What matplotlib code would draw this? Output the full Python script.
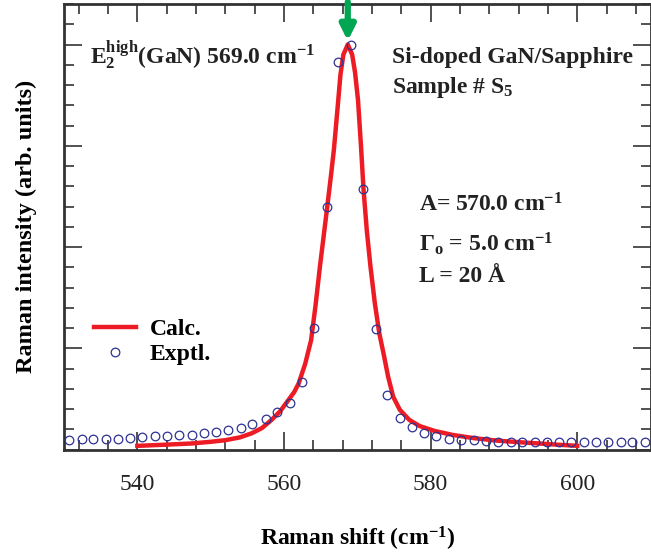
import matplotlib
matplotlib.use("Agg")
import matplotlib.pyplot as plt
from matplotlib.ticker import MultipleLocator, NullFormatter

plt.rcParams['font.family'] = ['Liberation Serif', 'DejaVu Serif']
plt.rcParams['mathtext.fontset'] = 'custom'
plt.rcParams['mathtext.rm'] = 'Liberation Serif:bold'
plt.rcParams['mathtext.it'] = 'Liberation Serif:bold'
plt.rcParams['mathtext.bf'] = 'Liberation Serif:bold'
plt.rcParams['mathtext.default'] = 'rm'

# experimental points (normalised intensity)
expt_x = [530.7, 532.4, 534.0, 535.7, 537.3, 539.0, 540.7, 542.4, 544.0, 545.7,
          547.4, 549.1, 550.7, 552.4, 554.1, 555.7, 557.5, 559.1, 560.8, 562.5,
          564.1, 565.8, 567.4, 569.1, 570.8, 572.5, 574.1, 575.8, 577.4, 579.1,
          580.8, 582.5, 584.2, 585.9, 587.5, 589.2, 590.9, 592.5, 594.2, 595.9,
          597.5, 599.2, 600.9, 602.5, 604.2, 605.9, 607.5, 609.2]
expt_y = [0.023, 0.025, 0.025, 0.025, 0.027, 0.029, 0.031, 0.033, 0.034, 0.036,
          0.037, 0.040, 0.042, 0.047, 0.054, 0.064, 0.076, 0.092, 0.115, 0.166,
          0.299, 0.599, 0.958, 1.000, 0.642, 0.298, 0.134, 0.078, 0.055, 0.041,
          0.033, 0.027, 0.023, 0.023, 0.021, 0.019, 0.019, 0.018, 0.018, 0.018,
          0.018, 0.018, 0.018, 0.018, 0.018, 0.018, 0.018, 0.018]

# calculated curve
calc_x = [540.0, 544.0, 547.5, 550.0, 552.0, 554.0, 555.6, 557.0, 558.3, 559.5,
          560.6, 561.4, 562.0, 562.9, 563.7, 564.3, 564.9, 565.4, 565.9, 566.4,
          566.8, 567.1, 567.4, 567.7, 568.1, 568.7, 569.3, 569.7, 570.1, 570.5,
          570.85, 571.3, 571.8, 572.4, 573.0, 573.6, 574.2, 574.9, 575.8, 577.1,
          578.5, 580.5, 583.0, 585.9, 589.0, 592.1, 597.2, 600.0]
calc_y = [0.009, 0.012, 0.015, 0.019, 0.023, 0.030, 0.040, 0.053, 0.073, 0.095,
          0.122, 0.142, 0.163, 0.212, 0.270, 0.355, 0.451, 0.525, 0.599, 0.675,
          0.739, 0.800, 0.862, 0.925, 0.975, 1.000, 0.975, 0.930, 0.862, 0.750,
          0.642, 0.540, 0.451, 0.360, 0.287, 0.235, 0.180, 0.130, 0.098, 0.073,
          0.058, 0.046, 0.036, 0.028, 0.022, 0.018, 0.012, 0.009]

peak_pos = 568.7

red = '#ed1c24'
blue = '#2e3192'
green = '#00a651'
dark = '#333333'

fig = plt.figure(figsize=(6.51, 5.57), dpi=100)
ax = fig.add_axes([64 / 651, 1 - 449.5 / 557, 586.6 / 651, 445.5 / 557])

ax.plot(calc_x, calc_y, color=red, lw=3.2, label='Calc.', zorder=3)
ax.plot(expt_x, expt_y, 'o', ms=6.2, mfc='none', mec=blue, mew=0.9,
        label='Exptl.', zorder=4, clip_on=False)

ax.set_xlim(530, 610)
ax.set_ylim(0, 1.1)
ax.xaxis.set_major_locator(MultipleLocator(20))
ax.xaxis.set_minor_locator(MultipleLocator(4))
ax.yaxis.set_major_locator(MultipleLocator(0.25))
ax.yaxis.set_minor_locator(MultipleLocator(0.05))
ax.yaxis.set_major_formatter(NullFormatter())
ax.tick_params(which='both', direction='in', top=True, right=True, color=dark, width=1.2)
ax.tick_params(which='major', length=13)
ax.tick_params(which='minor', length=7)
ax.tick_params(axis='x', labelsize=17, pad=18, labelcolor='#222222')
for s in ax.spines.values():
    s.set_linewidth(2)
    s.set_color(dark)

ax.set_xlabel('Raman shift (cm$^{-1}$)', fontsize=17, fontweight='bold', labelpad=21)
ax.set_ylabel('Raman intensity (arb. units)', fontsize=17.5, fontweight='bold', labelpad=16)

tk = dict(fontsize=17, fontweight='bold', color='#222222', transform=ax.transAxes)
ax.text(0.045, 0.867, r'$\mathrm{E}_2^{high}$(GaN) 569.0 cm$^{-1}$', **tk)
ax.text(0.56, 0.867, 'Si-doped GaN/Sapphire', **tk)
ax.text(0.56, 0.800, r'Sample # S$_5$', **tk)
ax.text(0.605, 0.535, r'A= 570.0 cm$^{-1}$', **tk)
ax.text(0.605, 0.445, r'$\Gamma_o$ = 5.0 cm$^{-1}$', **tk)
ax.text(0.605, 0.375, 'L = 20 Å', **tk)

leg = ax.legend(loc='upper left', bbox_to_anchor=(0.035, 0.315), frameon=False,
                fontsize=17, handlelength=1.8, handletextpad=0.55, numpoints=1,
                labelspacing=0.15, borderaxespad=0)
for t in leg.get_texts():
    t.set_fontweight('bold')

ax.annotate('', xy=(peak_pos, 1.002), xytext=(peak_pos, 1.112),
            arrowprops=dict(arrowstyle='-|>', color=green, lw=4.5, mutation_scale=22),
            annotation_clip=False, zorder=5)

fig.savefig('out.png', dpi=100)
